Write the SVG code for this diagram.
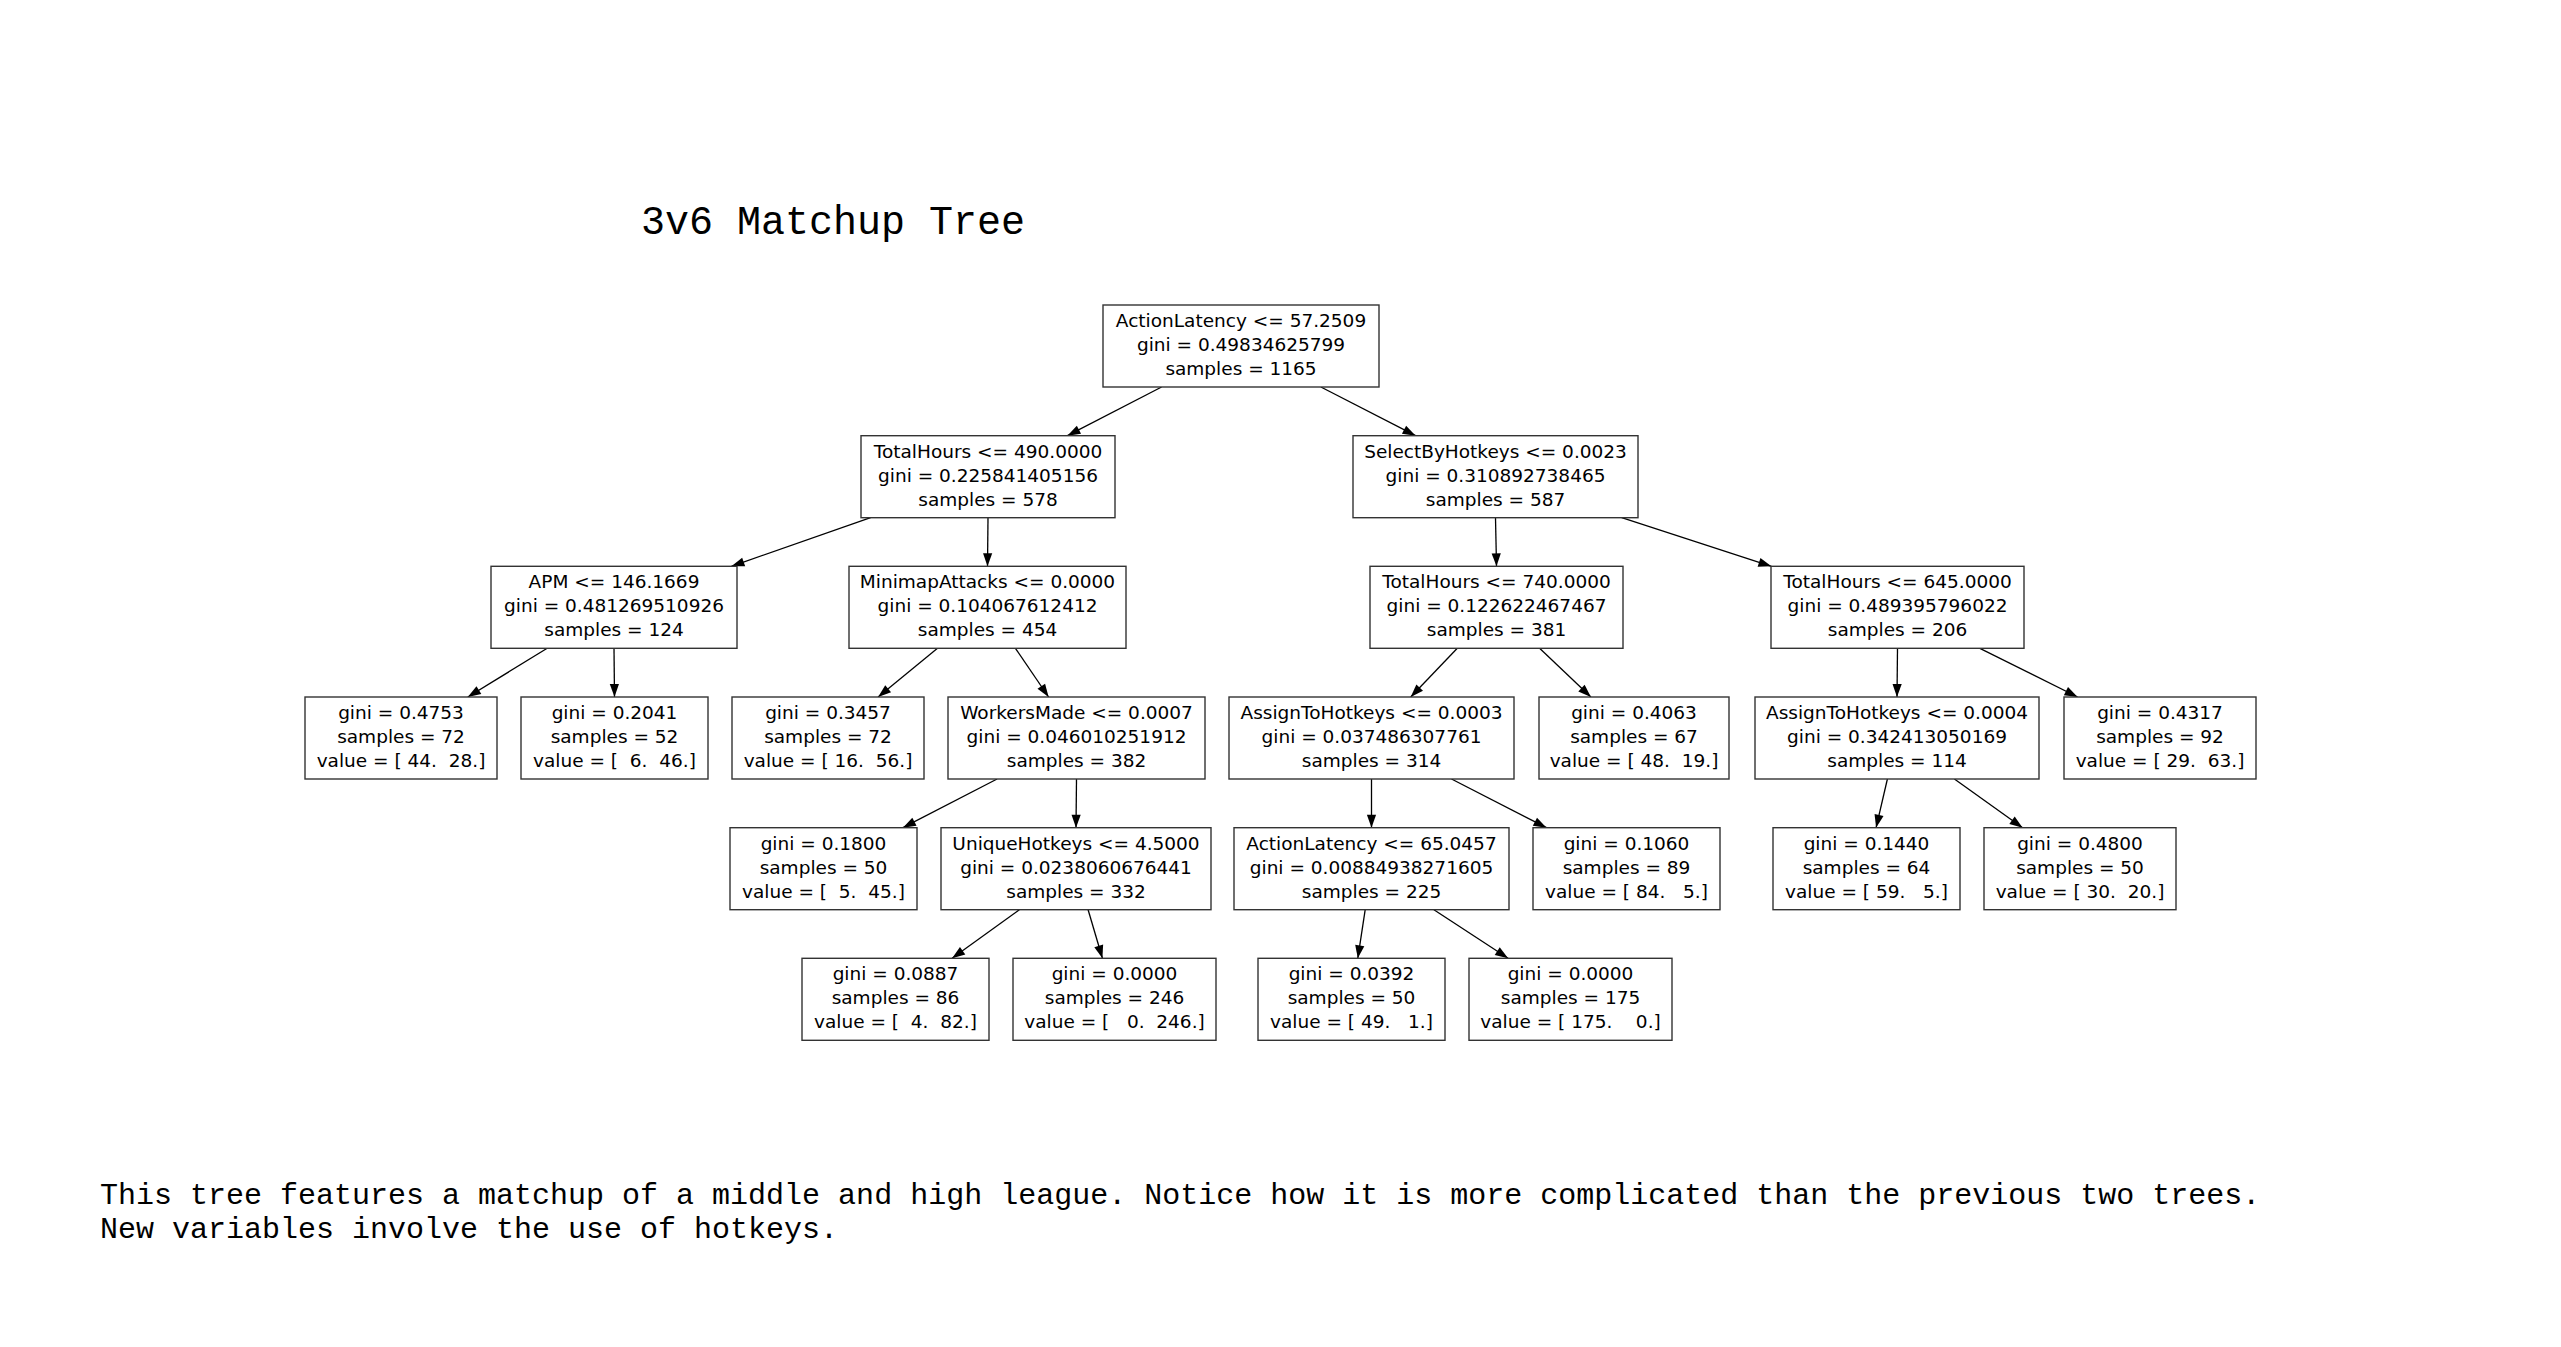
<svg xmlns="http://www.w3.org/2000/svg" width="2561" height="1347" viewBox="0 0 2561 1347" xml:space="preserve">
<style>
.bx{fill:#fff;stroke:#333;stroke-width:1.4}
.t{font-family:"DejaVu Sans",Verdana,sans-serif;font-size:18.5px;text-anchor:middle;fill:#000;white-space:pre}
.e{stroke:#000;stroke-width:1.3;fill:none;marker-end:url(#arr)}
.mono{font-family:"Liberation Mono","Courier New",monospace;fill:#000;white-space:pre}
</style>
<defs>
<marker id="arr" markerUnits="userSpaceOnUse" markerWidth="16" markerHeight="12" viewBox="0 -6 14 12" refX="13" refY="0" orient="auto">
<path d="M0,-4.6 L13,0 L0,4.6 z" fill="#000"/>
</marker>
</defs>
<rect width="2561" height="1347" fill="#fff"/>
<text class="mono" x="641" y="234" font-size="40">3v6 Matchup Tree</text>
<g id="connectors">
<line class="e" x1="1161.6" y1="387" x2="1067.4" y2="435.7"/>
<line class="e" x1="1320.9" y1="387" x2="1415.6" y2="435.7"/>
<line class="e" x1="870.6" y1="517.7" x2="731.4" y2="566.3"/>
<line class="e" x1="988" y1="517.7" x2="987.5" y2="566.3"/>
<line class="e" x1="1495.5" y1="517.7" x2="1496.5" y2="566.3"/>
<line class="e" x1="1621.7" y1="517.7" x2="1771.4" y2="566.3"/>
<line class="e" x1="547.2" y1="648.3" x2="467.8" y2="697"/>
<line class="e" x1="614" y1="648.3" x2="614.5" y2="697"/>
<line class="e" x1="937.5" y1="648.3" x2="878.1" y2="697"/>
<line class="e" x1="1015.4" y1="648.3" x2="1048.6" y2="697"/>
<line class="e" x1="1457.3" y1="648.3" x2="1410.7" y2="697"/>
<line class="e" x1="1539.6" y1="648.3" x2="1590.9" y2="697"/>
<line class="e" x1="1897.5" y1="648.3" x2="1897" y2="697"/>
<line class="e" x1="1979.9" y1="648.3" x2="2077.6" y2="697"/>
<line class="e" x1="997.1" y1="779" x2="902.9" y2="827.7"/>
<line class="e" x1="1076.5" y1="779" x2="1076" y2="827.7"/>
<line class="e" x1="1371.5" y1="779" x2="1371.5" y2="827.7"/>
<line class="e" x1="1451.5" y1="779" x2="1546.5" y2="827.7"/>
<line class="e" x1="1887.4" y1="779" x2="1876.1" y2="827.7"/>
<line class="e" x1="1954.4" y1="779" x2="2022.6" y2="827.7"/>
<line class="e" x1="1019.4" y1="909.7" x2="952.1" y2="958.3"/>
<line class="e" x1="1088.1" y1="909.7" x2="1102.4" y2="958.3"/>
<line class="e" x1="1365.2" y1="909.7" x2="1357.8" y2="958.3"/>
<line class="e" x1="1433.9" y1="909.7" x2="1508.1" y2="958.3"/>
</g>
<g id="n0"><rect class="bx" x="1103" y="305" width="276" height="82"/><text class="t" x="1241" y="327">ActionLatency &lt;= 57.2509</text><text class="t" x="1241" y="351">gini = 0.49834625799</text><text class="t" x="1241" y="375">samples = 1165</text></g>
<g id="n1"><rect class="bx" x="861" y="435.7" width="254" height="82"/><text class="t" x="988" y="457.7">TotalHours &lt;= 490.0000</text><text class="t" x="988" y="481.7">gini = 0.225841405156</text><text class="t" x="988" y="505.7">samples = 578</text></g>
<g id="n8"><rect class="bx" x="1353" y="435.7" width="285" height="82"/><text class="t" x="1495.5" y="457.7">SelectByHotkeys &lt;= 0.0023</text><text class="t" x="1495.5" y="481.7">gini = 0.310892738465</text><text class="t" x="1495.5" y="505.7">samples = 587</text></g>
<g id="n2"><rect class="bx" x="491" y="566.3" width="246" height="82"/><text class="t" x="614" y="588.3">APM &lt;= 146.1669</text><text class="t" x="614" y="612.3">gini = 0.481269510926</text><text class="t" x="614" y="636.3">samples = 124</text></g>
<g id="n5"><rect class="bx" x="849" y="566.3" width="277" height="82"/><text class="t" x="987.5" y="588.3">MinimapAttacks &lt;= 0.0000</text><text class="t" x="987.5" y="612.3">gini = 0.104067612412</text><text class="t" x="987.5" y="636.3">samples = 454</text></g>
<g id="n9"><rect class="bx" x="1370" y="566.3" width="253" height="82"/><text class="t" x="1496.5" y="588.3">TotalHours &lt;= 740.0000</text><text class="t" x="1496.5" y="612.3">gini = 0.122622467467</text><text class="t" x="1496.5" y="636.3">samples = 381</text></g>
<g id="n16"><rect class="bx" x="1771" y="566.3" width="253" height="82"/><text class="t" x="1897.5" y="588.3">TotalHours &lt;= 645.0000</text><text class="t" x="1897.5" y="612.3">gini = 0.489395796022</text><text class="t" x="1897.5" y="636.3">samples = 206</text></g>
<g id="n3"><rect class="bx" x="305" y="697" width="192" height="82"/><text class="t" x="401" y="719">gini = 0.4753</text><text class="t" x="401" y="743">samples = 72</text><text class="t" x="401" y="767">value = [ 44.  28.]</text></g>
<g id="n4"><rect class="bx" x="521" y="697" width="187" height="82"/><text class="t" x="614.5" y="719">gini = 0.2041</text><text class="t" x="614.5" y="743">samples = 52</text><text class="t" x="614.5" y="767">value = [  6.  46.]</text></g>
<g id="n6"><rect class="bx" x="732" y="697" width="192" height="82"/><text class="t" x="828" y="719">gini = 0.3457</text><text class="t" x="828" y="743">samples = 72</text><text class="t" x="828" y="767">value = [ 16.  56.]</text></g>
<g id="n7"><rect class="bx" x="948" y="697" width="257" height="82"/><text class="t" x="1076.5" y="719">WorkersMade &lt;= 0.0007</text><text class="t" x="1076.5" y="743">gini = 0.046010251912</text><text class="t" x="1076.5" y="767">samples = 382</text></g>
<g id="n10"><rect class="bx" x="1229" y="697" width="285" height="82"/><text class="t" x="1371.5" y="719">AssignToHotkeys &lt;= 0.0003</text><text class="t" x="1371.5" y="743">gini = 0.037486307761</text><text class="t" x="1371.5" y="767">samples = 314</text></g>
<g id="n15"><rect class="bx" x="1539" y="697" width="190" height="82"/><text class="t" x="1634" y="719">gini = 0.4063</text><text class="t" x="1634" y="743">samples = 67</text><text class="t" x="1634" y="767">value = [ 48.  19.]</text></g>
<g id="n17"><rect class="bx" x="1755" y="697" width="284" height="82"/><text class="t" x="1897" y="719">AssignToHotkeys &lt;= 0.0004</text><text class="t" x="1897" y="743">gini = 0.342413050169</text><text class="t" x="1897" y="767">samples = 114</text></g>
<g id="n20"><rect class="bx" x="2064" y="697" width="192" height="82"/><text class="t" x="2160" y="719">gini = 0.4317</text><text class="t" x="2160" y="743">samples = 92</text><text class="t" x="2160" y="767">value = [ 29.  63.]</text></g>
<g id="n11"><rect class="bx" x="730" y="827.7" width="187" height="82"/><text class="t" x="823.5" y="849.7">gini = 0.1800</text><text class="t" x="823.5" y="873.7">samples = 50</text><text class="t" x="823.5" y="897.7">value = [  5.  45.]</text></g>
<g id="n12"><rect class="bx" x="941" y="827.7" width="270" height="82"/><text class="t" x="1076" y="849.7">UniqueHotkeys &lt;= 4.5000</text><text class="t" x="1076" y="873.7">gini = 0.0238060676441</text><text class="t" x="1076" y="897.7">samples = 332</text></g>
<g id="n13"><rect class="bx" x="1234" y="827.7" width="275" height="82"/><text class="t" x="1371.5" y="849.7">ActionLatency &lt;= 65.0457</text><text class="t" x="1371.5" y="873.7">gini = 0.00884938271605</text><text class="t" x="1371.5" y="897.7">samples = 225</text></g>
<g id="n14"><rect class="bx" x="1533" y="827.7" width="187" height="82"/><text class="t" x="1626.5" y="849.7">gini = 0.1060</text><text class="t" x="1626.5" y="873.7">samples = 89</text><text class="t" x="1626.5" y="897.7">value = [ 84.   5.]</text></g>
<g id="n18"><rect class="bx" x="1773" y="827.7" width="187" height="82"/><text class="t" x="1866.5" y="849.7">gini = 0.1440</text><text class="t" x="1866.5" y="873.7">samples = 64</text><text class="t" x="1866.5" y="897.7">value = [ 59.   5.]</text></g>
<g id="n19"><rect class="bx" x="1984" y="827.7" width="192" height="82"/><text class="t" x="2080" y="849.7">gini = 0.4800</text><text class="t" x="2080" y="873.7">samples = 50</text><text class="t" x="2080" y="897.7">value = [ 30.  20.]</text></g>
<g id="n21"><rect class="bx" x="802" y="958.3" width="187" height="82"/><text class="t" x="895.5" y="980.3">gini = 0.0887</text><text class="t" x="895.5" y="1004.3">samples = 86</text><text class="t" x="895.5" y="1028.3">value = [  4.  82.]</text></g>
<g id="n22"><rect class="bx" x="1013" y="958.3" width="203" height="82"/><text class="t" x="1114.5" y="980.3">gini = 0.0000</text><text class="t" x="1114.5" y="1004.3">samples = 246</text><text class="t" x="1114.5" y="1028.3">value = [   0.  246.]</text></g>
<g id="n23"><rect class="bx" x="1258" y="958.3" width="187" height="82"/><text class="t" x="1351.5" y="980.3">gini = 0.0392</text><text class="t" x="1351.5" y="1004.3">samples = 50</text><text class="t" x="1351.5" y="1028.3">value = [ 49.   1.]</text></g>
<g id="n24"><rect class="bx" x="1469" y="958.3" width="203" height="82"/><text class="t" x="1570.5" y="980.3">gini = 0.0000</text><text class="t" x="1570.5" y="1004.3">samples = 175</text><text class="t" x="1570.5" y="1028.3">value = [ 175.    0.]</text></g>
<text class="mono" x="100" y="1204" font-size="30">This tree features a matchup of a middle and high league. Notice how it is more complicated than the previous two trees.</text>
<text class="mono" x="100" y="1238" font-size="30">New variables involve the use of hotkeys.</text>
</svg>
